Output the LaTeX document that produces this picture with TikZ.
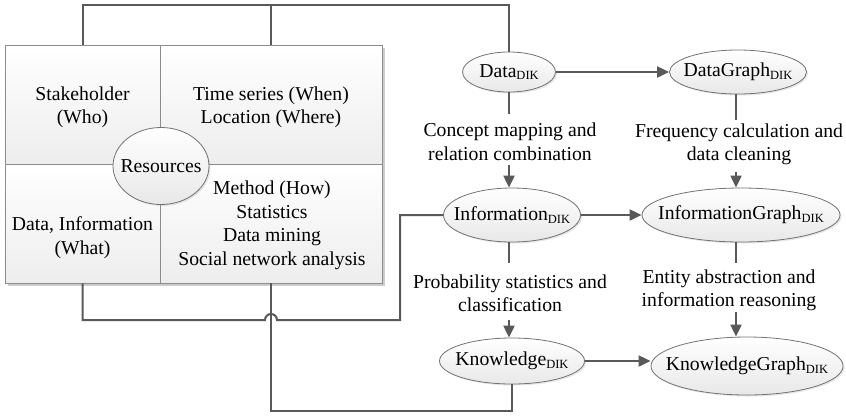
\documentclass[tikz,border=0pt]{standalone}
\usepackage{fontspec}
\setmainfont{Liberation Serif}
\usetikzlibrary{arrows.meta,shapes.geometric,shadows}
\definecolor{ln}{HTML}{595959}
\definecolor{bd}{HTML}{8C8C8C}
\newcommand\dik{\raisebox{-2.5bp}{\fontsize{12.5bp}{12bp}\selectfont DIK}}
\newcommand\ztext[1]{\makebox[0pt][c]{#1}}
\begin{document}
\begin{tikzpicture}[x=1bp,y=-1bp,
  every node/.style={font=\fontsize{19.7bp}{23.5bp}\selectfont, text=black},
  cell/.style={draw=bd, line width=0.8bp, top color=white, bottom color=black!7, inner sep=0pt},
  ell/.style={ellipse, draw=black!55, line width=0.8bp, top color=white, bottom color=black!9, inner sep=0pt,
    drop shadow={shadow xshift=1.5bp, shadow yshift=-1.5bp, opacity=0.2}},
  conn/.style={draw=ln, line width=2bp},
  arr/.style={conn, -{Triangle[length=12bp,width=11bp]}}
]
\useasboundingbox (0,0) rectangle (846,417);

% resource box
\fill[black!20] (7.5,47.5) rectangle (385,286);
\node[cell, minimum width=155bp, minimum height=119bp] (TL) at (82.5,104.5) {};
\node[cell, minimum width=222bp, minimum height=119bp] (TR) at (271,104.5) {};
\node[cell, minimum width=155bp, minimum height=119bp] (BL) at (82.5,223.5) {};
\node[cell, minimum width=222bp, minimum height=119bp] (BR) at (271,223.5) {};
\node[align=center] (tTL) at (82.5,107.5) {Stakeholder\\(Who)};
\node[align=center] (tTR) at (271,107.5) {Time series (When)\\Location (Where)};
\node[align=center] (tBL) at (82.5,237.5) {Data, Information\\(What)};
\node[align=center] (tBR) at (272,225.5) {Method (How)\\Statistics\\Data mining\\Social network analysis};
\node[ell, minimum width=96bp, minimum height=77bp] (Res) at (161,166) {\ztext{Resources}};

% DIK ellipses
\node[ell, minimum width=93bp, minimum height=40bp] (Data) at (509,72) {\ztext{Data\dik}};
\node[ell, minimum width=137bp, minimum height=44bp] (DG) at (738,72) {\ztext{DataGraph\dik}};
\node[ell, minimum width=137bp, minimum height=54bp] (Info) at (512,215) {\ztext{Information\dik}};
\node[ell, minimum width=198bp, minimum height=54bp] (IG) at (741,215) {\ztext{InformationGraph\dik}};
\node[ell, minimum width=145bp, minimum height=46bp] (Know) at (512,361) {\ztext{Knowledge\dik}};
\node[ell, minimum width=192bp, minimum height=58bp] (KG) at (747,366) {\ztext{KnowledgeGraph\dik}};

% labels
\node[align=center] (L1) at (510,142) {Concept mapping and\\relation combination};
\node[align=center] (L2) at (739,144.5) {Frequency calculation and\\data cleaning};
\node[align=center] (L3) at (510,293.5) {Probability statistics and\\classification};
\node[align=center] (L4) at (729,290.5) {Entity abstraction and\\information reasoning};

% vertical flows
\coordinate (a1) at (509,114); \coordinate (a2) at (509,165);
\coordinate (a3) at (509,263); \coordinate (a4) at (509,320);
\coordinate (c1) at (736,120); \coordinate (c2) at (736,172);
\coordinate (c3) at (736,263); \coordinate (c4) at (736,312);
\draw[conn] (Data.south) -- (a1);
\draw[arr] (a2) -- (a2 |- Info.north);
\draw[conn] (c1 |- DG.south) -- (c1);
\draw[arr] (c2) -- (c2 |- IG.north);
\draw[conn] (a3 |- Info.south) -- (a3);
\draw[arr] (a4) -- (a4 |- Know.north);
\draw[conn] (c3 |- IG.south) -- (c3);
\draw[arr] (c4) -- (c4 |- KG.north);

% horizontal flows
\draw[arr] (Data.east) -- (DG.west);
\draw[arr] (Info.east) -- (IG.west);
\draw[arr] (Know.east) -- (Know.east -| KG.west);

% links from resource box
\coordinate (j1) at (82.5,5);
\coordinate (j2) at (271,5);
\draw[conn] (TL.north) -- (j1) -| (Data.north);
\draw[conn] (TR.north) -- (j2);
\coordinate (h1) at (82.5,320);
\coordinate (hopL) at (265,320);
\coordinate (v1) at (400,320);
\draw[conn] (BL.south) -- (h1) -- (hopL) arc[start angle=180,end angle=0,radius=6bp] -- (v1) |- (Info.west);
\coordinate (b1) at (271,411);
\draw[conn] (BR.south) -- (b1) -| (Know.south);
\end{tikzpicture}
\end{document}
